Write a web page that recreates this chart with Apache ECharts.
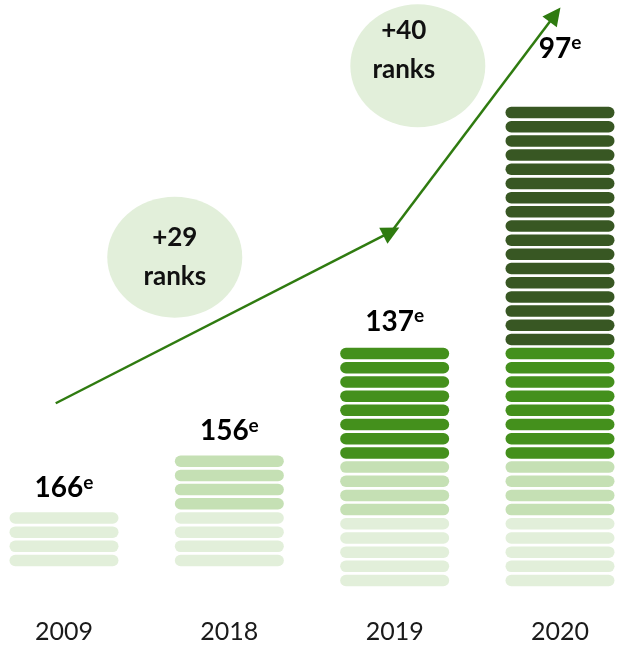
<!DOCTYPE html>
<html>
<head>
<meta charset="utf-8">
<script src="https://cdn.jsdelivr.net/npm/echarts@6/dist/echarts.min.js"></script>
<style>
  html, body { margin: 0; padding: 0; background: #ffffff; }
  #chart { width: 628px; height: 649px; }
</style>
</head>
<body>
<div id="chart"></div>
<script>
// World rank per year and the stripe tiers that build each column (bottom to top)
const years = ['2009', '2018', '2019', '2020'];
const worldRank = [166, 156, 137, 97];
const lightStripes = [4, 4, 5, 5];
const mediumStripes = [0, 4, 4, 4];
const brightStripes = [0, 0, 8, 8];
const darkStripes = [0, 0, 0, 17];

// Rank gains shown in the bubbles, and the trend arrow (column units, stripe units)
const rankGains = ['+29', '+40'];
const bubbleCenters = [[0.67, 22.8], [2.14, 36.3]];
const trendPath = [[-0.05, 12.5], [1.98, 24.6], [2.97, 39.9]];

// Layout / style settings
const FONT = 'Lato, "Open Sans", sans-serif';
const tierColors = ['#e2efda', '#c5e0b4', '#44901c', '#385723'];
const tierCounts = [lightStripes, mediumStripes, brightStripes, darkStripes];
const columnLift = [20, 20, 0, 0];   // px the two early columns sit higher
const labelGap = [30, 30, 32, 64];   // px from top stripe centre to rank label
const STRIPE_W = 109, STRIPE_H = 11.5;
const ARROW = '#2f7b10';

const chart = echarts.init(document.getElementById('chart'), null, { renderer: 'canvas' });

function renderColumn(params, api) {
  const i = api.value(0);
  const lift = columnLift[i];
  const children = [];
  let k = 0;
  let top = null;
  tierCounts.forEach((counts, t) => {
    for (let j = 0; j < counts[i]; j++) {
      const p = api.coord([i, k]);
      top = p;
      children.push({
        type: 'rect',
        shape: { x: p[0] - STRIPE_W / 2, y: p[1] - STRIPE_H / 2 - lift, width: STRIPE_W, height: STRIPE_H, r: STRIPE_H / 2 },
        style: { fill: tierColors[t] }
      });
      k++;
    }
  });
  children.push({
    type: 'text',
    style: {
      text: '{n|' + worldRank[i] + '}{s|e}',
      x: top[0],
      y: top[1] - lift - labelGap[i],
      align: 'center',
      verticalAlign: 'middle',
      rich: {
        n: { fontFamily: FONT, fontSize: 28, fontWeight: 'bold', color: '#111111', lineHeight: 30 },
        s: { fontFamily: FONT, fontSize: 19, fontWeight: 'bold', color: '#111111', lineHeight: 20, verticalAlign: 'top' }
      }
    }
  });
  return { type: 'group', children };
}

const option = {
  animation: false,
  backgroundColor: '#ffffff',
  grid: { left: 64, right: 68, top: 13.3, bottom: 68.5 },
  xAxis: [
    {
      type: 'category',
      data: years,
      boundaryGap: false,
      axisLine: { show: false },
      axisTick: { show: false },
      splitLine: { show: false },
      axisLabel: { fontFamily: FONT, fontSize: 25, color: '#1a1a1a', margin: 39 }
    },
    { type: 'value', min: 0, max: 3, show: false }
  ],
  yAxis: { type: 'value', min: 0, max: 40, show: false },
  series: [
    {
      type: 'custom',
      xAxisIndex: 0,
      yAxisIndex: 0,
      renderItem: renderColumn,
      data: years.map((y, i) => [i]),
      clip: false,
      z: 2
    },
    {
      type: 'scatter',
      xAxisIndex: 1,
      yAxisIndex: 0,
      symbol: 'circle',
      itemStyle: { color: '#e2efda', opacity: 1 },
      label: {
        show: true,
        position: 'inside',
        fontFamily: FONT,
        fontSize: 26,
        fontWeight: 'bold',
        color: '#111111',
        lineHeight: 39,
        formatter: p => rankGains[p.dataIndex] + '\nranks'
      },
      data: [
        { value: bubbleCenters[0], symbolSize: [135, 121] },
        { value: bubbleCenters[1], symbolSize: [135, 123], label: { offset: [-14, -16] } }
      ],
      emphasis: { disabled: true },
      z: 1
    },
    {
      type: 'lines',
      coordinateSystem: 'cartesian2d',
      xAxisIndex: 1,
      yAxisIndex: 0,
      clip: false,
      symbol: ['none', 'triangle'],
      symbolSize: [16, 18],
      lineStyle: { color: ARROW, width: 2.5, opacity: 1, curveness: 0 },
      itemStyle: { color: ARROW },
      data: [
        { coords: [trendPath[0], trendPath[1]] },
        { coords: [trendPath[1], trendPath[2]] }
      ],
      z: 3
    }
  ]
};

chart.setOption(option);
</script>
</body>
</html>
